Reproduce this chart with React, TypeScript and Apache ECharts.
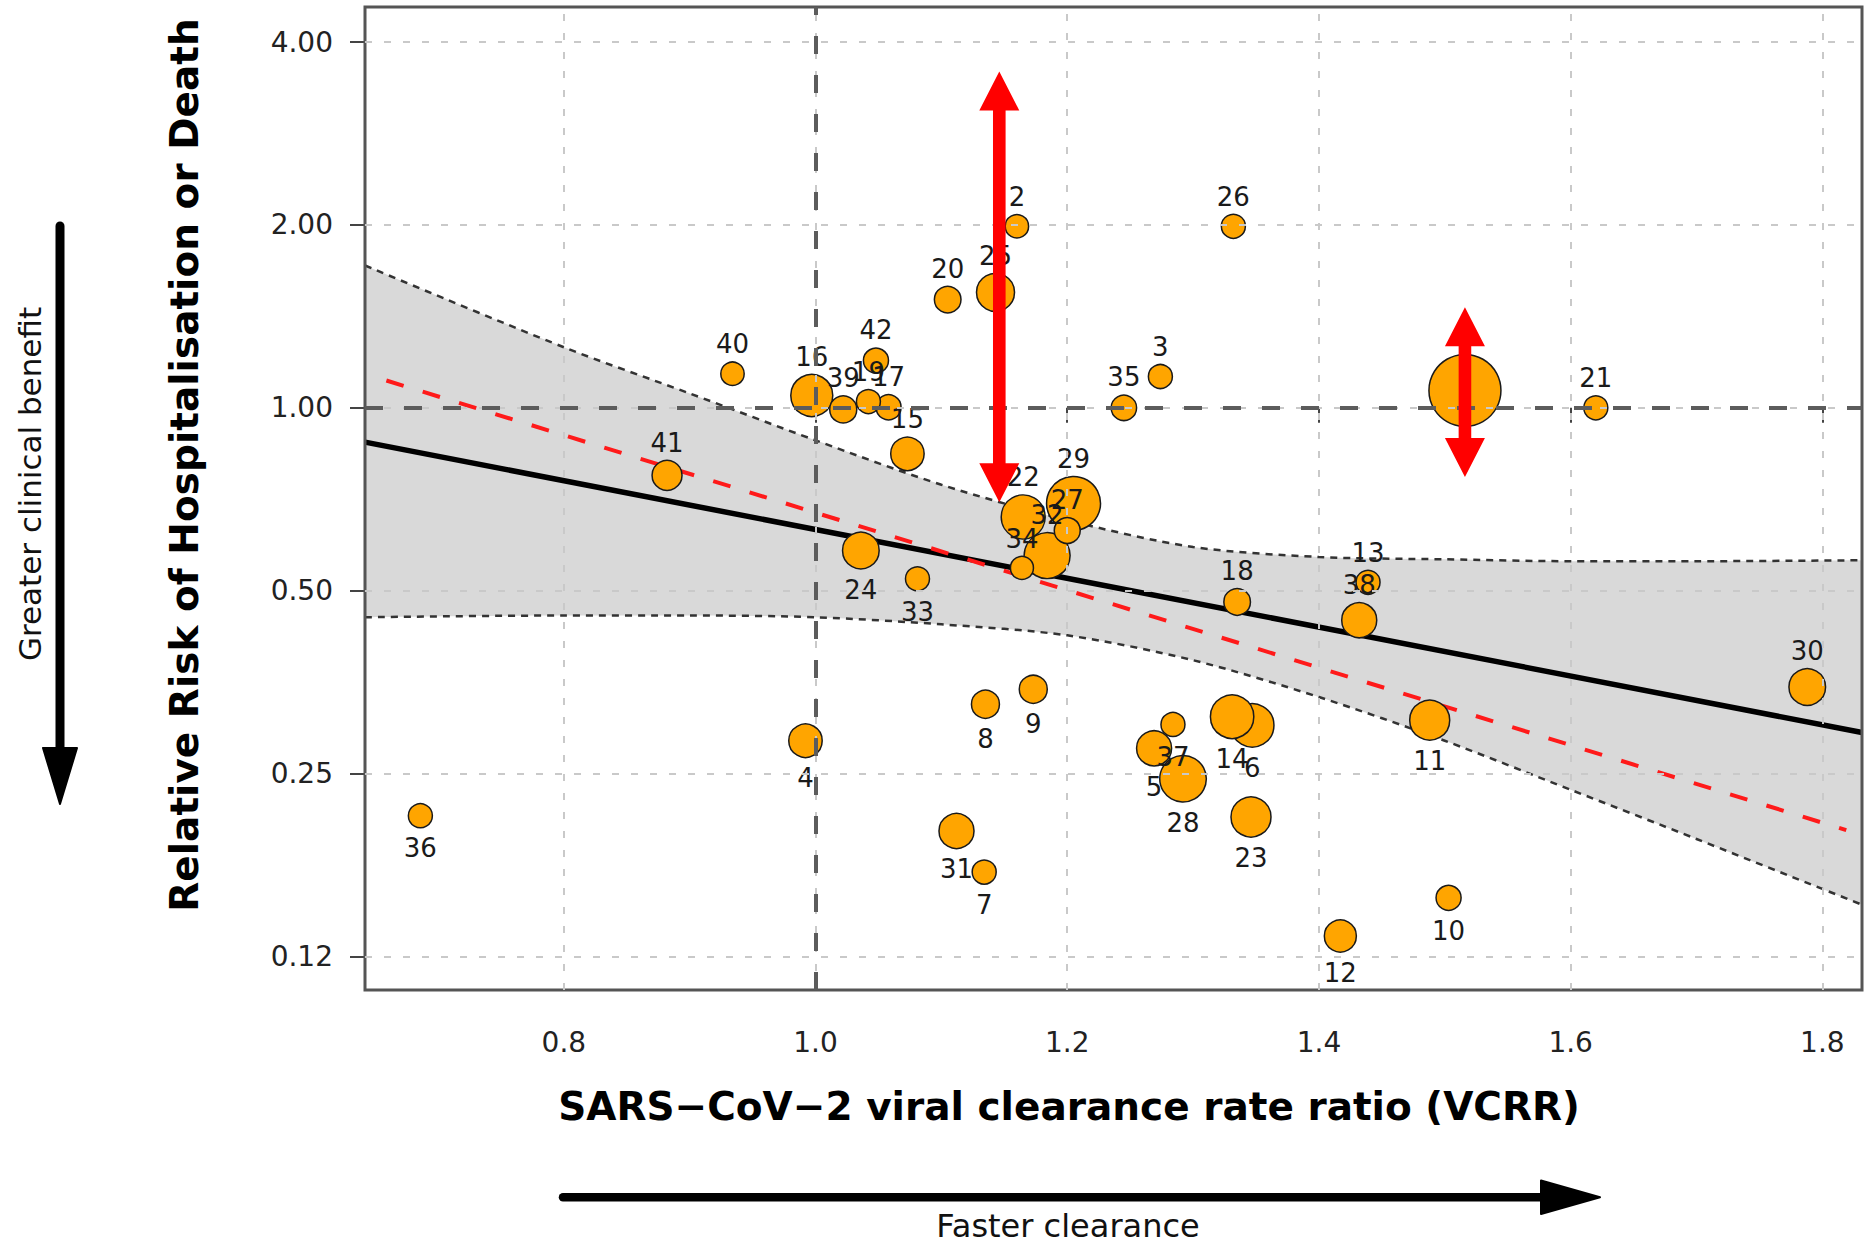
import React, { useEffect, useRef } from "react";
import * as echarts from "echarts";

// ---------- data ----------
const studyIds = [
  1, 2, 3, 4, 5, 6, 7, 8, 9, 10, 11, 12, 13, 14, 15, 16, 17, 18, 19, 20, 21,
  22, 23, 24, 25, 26, 27, 28, 29, 30, 31, 32, 33, 34, 35, 36, 37, 38, 39, 40, 41, 42,
];
const vcrr = [
  1.516, 1.16, 1.274, 0.992, 1.269, 1.347, 1.134, 1.135, 1.173, 1.503, 1.488,
  1.417, 1.439, 1.331, 1.073, 0.997, 1.058, 1.335, 1.042, 1.105, 1.62, 1.165,
  1.346, 1.036, 1.143, 1.332, 1.2, 1.292, 1.205, 1.788, 1.112, 1.184, 1.081,
  1.164, 1.245, 0.686, 1.284, 1.432, 1.022, 0.934, 0.882, 1.048,
];
const relativeRisk = [
  1.068, 1.99, 1.126, 0.283, 0.275, 0.3, 0.172, 0.325, 0.344, 0.156, 0.306,
  0.135, 0.516, 0.31, 0.84, 1.048, 1.002, 0.479, 1.024, 1.507, 1.0, 0.661,
  0.212, 0.582, 1.549, 1.99, 0.628, 0.245, 0.696, 0.347, 0.201, 0.571, 0.523,
  0.545, 1.0, 0.213, 0.301, 0.447, 0.994, 1.138, 0.774, 1.196,
];
// relative study weight (bubble area)
const studyWeight = [
  9.0, 0.95, 1.0, 1.94, 2.13, 3.27, 1.0, 1.36, 1.36, 1.09, 2.78, 1.78, 1.0,
  3.27, 1.94, 3.06, 1.09, 1.23, 1.0, 1.23, 1.0, 3.36, 2.78, 2.33, 2.51, 1.0,
  1.17, 3.77, 5.06, 2.33, 2.13, 3.67, 1.0, 0.92, 1.12, 1.0, 1.0, 2.13, 1.27,
  0.95, 1.56, 1.09,
];
const labelBelowIds = [4, 5, 6, 7, 8, 9, 10, 11, 12, 14, 23, 24, 28, 31, 33, 36, 37];
const hiddenLabelIds = [1];

const xTicks = [0.8, 1.0, 1.2, 1.4, 1.6, 1.8];
const yTicks = [0.125, 0.25, 0.5, 1, 2, 4];
const yTickLabels = ["0.12", "0.25", "0.50", "1.00", "2.00", "4.00"];
const xRange = [0.642, 1.8315];
const yRange = [0.11, 4.57];

// confidence band of the meta-regression
const bandX = [0.642, 0.8, 0.9, 1.0, 1.1, 1.2, 1.3, 1.4, 1.5, 1.6, 1.7, 1.8315];
const bandUpper = [1.715, 1.258, 1.056, 0.884, 0.747, 0.653, 0.59, 0.568, 0.563, 0.559, 0.559, 0.561];
const bandLower = [0.452, 0.455, 0.455, 0.452, 0.44, 0.422, 0.384, 0.334, 0.283, 0.235, 0.195, 0.152];

// fitted lines (end points)
const fitX = [0.642, 1.8315];
const fitRR = [0.878, 0.292];
const altFitX = [0.659, 1.819];
const altFitRR = [1.109, 0.2017];

// red double arrows (annotation)
const arrowX = [1.146, 1.516];
const arrowTop = [3.58, 1.464];
const arrowBottom = [0.699, 0.769];

// ---------- option ----------
const L = (v: number) => Math.log2(v);

const gridStyle = { color: "#c9c9c9", width: 2, type: [7, 12] as number[] };
const refStyle = { color: "#5c5c5c", width: 4, type: [18, 21] as number[] };

function buildOption() {
  const points = studyIds
    .map((id, i) => ({
      name: String(id),
      value: [vcrr[i], L(relativeRisk[i]), studyWeight[i]],
      symbolSize: 24 * Math.sqrt(studyWeight[i]),
      label: {
        show: !hiddenLabelIds.includes(id),
        position: labelBelowIds.includes(id) ? "bottom" : "top",
        distance: labelBelowIds.includes(id) ? 7 : 4,
      },
    }))
    .sort((a, b) => b.value[2] - a.value[2]);

  const markData: any[] = [
    ...xTicks.map((v) => ({ xAxis: v, lineStyle: gridStyle })),
    ...yTicks.map((v) => ({ yAxis: L(v), lineStyle: gridStyle })),
    { xAxis: 1, lineStyle: refStyle },
    { yAxis: 0, lineStyle: refStyle },
  ];

  const bandDash = { color: "#333", width: 2.5, type: [7, 6] as number[] };

  return {
    animation: false,
    backgroundColor: "#ffffff",
    grid: {
      left: 365,
      top: 7,
      width: 1497,
      height: 983,
      show: true,
      z: 4,
      borderColor: "#555",
      borderWidth: 3,
      backgroundColor: "transparent",
    },
    xAxis: {
      type: "value",
      min: xRange[0],
      max: xRange[1],
      axisLine: { show: false },
      splitLine: { show: false },
      axisTick: {
        show: true,
        customValues: xTicks,
        length: 15,
        lineStyle: { color: "#444", width: 2 },
      },
      axisLabel: {
        customValues: xTicks,
        formatter: (v: number) => v.toFixed(1),
        fontFamily: "DejaVu Sans",
        fontSize: 28,
        color: "#222",
        margin: 38,
      },
    },
    yAxis: {
      type: "value",
      min: L(yRange[0]),
      max: L(yRange[1]),
      axisLine: { show: false },
      splitLine: { show: false },
      axisTick: {
        show: true,
        customValues: yTicks.map(L),
        length: 15,
        lineStyle: { color: "#444", width: 2 },
      },
      axisLabel: {
        customValues: yTicks.map(L),
        formatter: (v: number) => {
          const i = yTicks.findIndex((t) => Math.abs(L(t) - v) < 1e-6);
          return i >= 0 ? yTickLabels[i] : "";
        },
        fontFamily: "DejaVu Sans",
        fontSize: 28,
        color: "#222",
        margin: 32,
      },
    },
    series: [
      {
        type: "line",
        name: "upper",
        data: bandX.map((x, i) => [x, L(bandUpper[i])]),
        symbol: "none",
        smooth: 0.3,
        lineStyle: bandDash,
        areaStyle: { color: "#d9d9d9", opacity: 1, origin: "start" },
        z: 1,
        silent: true,
      },
      {
        type: "line",
        name: "lower",
        data: bandX.map((x, i) => [x, L(bandLower[i])]),
        symbol: "none",
        smooth: 0.3,
        lineStyle: bandDash,
        areaStyle: { color: "#ffffff", opacity: 1, origin: "start" },
        z: 1,
        silent: true,
      },
      {
        type: "line",
        name: "fit",
        data: fitX.map((x, i) => [x, L(fitRR[i])]),
        symbol: "none",
        lineStyle: { color: "#000", width: 5.5 },
        z: 2,
        silent: true,
      },
      {
        type: "line",
        name: "fit2",
        data: altFitX.map((x, i) => [x, L(altFitRR[i])]),
        symbol: "none",
        lineStyle: { color: "#ff1a1a", width: 4, type: [18, 20] },
        z: 2,
        silent: true,
      },
      {
        type: "scatter",
        name: "studies",
        data: points,
        itemStyle: { color: "#FFA500", borderColor: "#1a1a1a", borderWidth: 1.5, opacity: 1 },
        label: {
          show: true,
          formatter: "{b}",
          fontFamily: "DejaVu Sans",
          fontSize: 26,
          color: "#1a1a1a",
        },
        z: 3,
        silent: true,
      },
      {
        type: "line",
        name: "grid",
        data: [],
        z: 5,
        markLine: {
          silent: true,
          z: 5,
          symbol: "none",
          label: { show: false },
          animation: false,
          data: markData,
        },
      },
      {
        type: "custom",
        name: "arrows",
        z: 10,
        silent: true,
        clip: false,
        data: arrowX.map((x, i) => [x, L(arrowTop[i]), L(arrowBottom[i])]),
        encode: { x: 0, y: [1, 2] },
        renderItem: (params: any, api: any) => {
          const x = api.value(0);
          const p1 = api.coord([x, api.value(1)]);
          const p2 = api.coord([x, api.value(2)]);
          const hw = 20;
          const sw = 6.3;
          const hl = 39;
          const cx = p1[0];
          const pts = [
            [cx, p1[1]],
            [cx + hw, p1[1] + hl],
            [cx + sw, p1[1] + hl],
            [cx + sw, p2[1] - hl],
            [cx + hw, p2[1] - hl],
            [cx, p2[1]],
            [cx - hw, p2[1] - hl],
            [cx - sw, p2[1] - hl],
            [cx - sw, p1[1] + hl],
            [cx - hw, p1[1] + hl],
          ];
          return { type: "polygon", shape: { points: pts }, style: { fill: "#ff0000" } };
        },
      },
    ],
    graphic: [
      {
        type: "text",
        x: 184,
        y: 465,
        rotation: Math.PI / 2,
        style: {
          text: "Relative Risk of Hospitalisation or Death",
          fontFamily: "DejaVu Sans",
          fontWeight: "bold",
          fontSize: 39,
          fill: "#000",
          align: "center",
          verticalAlign: "middle",
        },
      },
      {
        type: "text",
        x: 30,
        y: 484,
        rotation: Math.PI / 2,
        style: {
          text: "Greater clinical benefit",
          fontFamily: "DejaVu Sans",
          fontSize: 31,
          fill: "#111",
          align: "center",
          verticalAlign: "middle",
        },
      },
      {
        type: "text",
        x: 1069,
        y: 1106,
        style: {
          text: "SARS\u2212CoV\u22122 viral clearance rate ratio (VCRR)",
          fontFamily: "DejaVu Sans",
          fontWeight: "bold",
          fontSize: 39,
          fill: "#000",
          align: "center",
          verticalAlign: "middle",
        },
      },
      {
        type: "text",
        x: 1068,
        y: 1226,
        style: {
          text: "Faster clearance",
          fontFamily: "DejaVu Sans",
          fontSize: 32,
          fill: "#111",
          align: "center",
          verticalAlign: "middle",
        },
      },
      {
        type: "line",
        shape: { x1: 60, y1: 226, x2: 60, y2: 752 },
        style: { stroke: "#000", lineWidth: 9, lineCap: "round" },
      },
      {
        type: "polygon",
        shape: { points: [[43, 748], [77, 748], [60, 804]] },
        style: { fill: "#000", stroke: "#000", lineWidth: 2, lineJoin: "round" },
      },
      {
        type: "line",
        shape: { x1: 563, y1: 1197.3, x2: 1545, y2: 1197.3 },
        style: { stroke: "#000", lineWidth: 8.5, lineCap: "round" },
      },
      {
        type: "polygon",
        shape: { points: [[1541, 1180.5], [1541, 1214], [1600, 1197.3]] },
        style: { fill: "#000", stroke: "#000", lineWidth: 2, lineJoin: "round" },
      },
    ],
  };
}

export default function App() {
  const ref = useRef<HTMLDivElement>(null);
  useEffect(() => {
    const chart = echarts.init(ref.current!, null, { renderer: "svg" });
    chart.setOption(buildOption() as any);
    return () => chart.dispose();
  }, []);
  return (
    <div
      ref={ref}
      style={{ position: "fixed", left: 0, top: 0, width: 1870, height: 1247, background: "#fff" }}
    />
  );
}
